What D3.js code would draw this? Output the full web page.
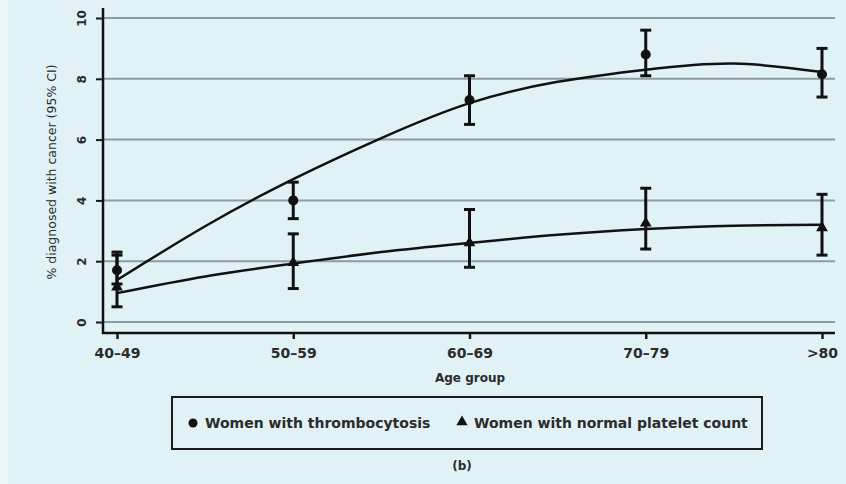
<!DOCTYPE html>
<html>
<head>
<meta charset="utf-8">
<script src="https://cdn.jsdelivr.net/npm/d3@7"></script>
<style>
  html, body { margin: 0; padding: 0; background: #e0f2f6; }
  svg { display: block; }
  text { font-family: "DejaVu Sans", sans-serif; fill: #2b2b2b; }
</style>
</head>
<body>
<svg id="chart" width="846" height="484"></svg>
<script>
// Age groups on the x axis
const ageGroups = ["40\u201349", "50\u201359", "60\u201369", "70\u201379", ">80"];
const yTicks = [0, 2, 4, 6, 8, 10];

// Women with thrombocytosis: observed % and 95% CI
const thrombValue = [1.7, 4.0, 7.3, 8.8, 8.15];
const thrombLow   = [1.25, 3.4, 6.5, 8.1, 7.4];
const thrombHigh  = [2.3, 4.6, 8.1, 9.6, 9.0];

// Women with normal platelet count: observed % and 95% CI
const normalValue = [1.15, 1.95, 2.6, 3.25, 3.1];
const normalLow   = [0.5, 1.1, 1.8, 2.4, 2.2];
const normalHigh  = [2.2, 2.9, 3.7, 4.4, 4.2];

// Fitted trend curves, sampled at each age group and halfway between groups
const fitPos    = [0, 0.5, 1, 1.5, 2, 2.5, 3, 3.5, 4];
const thrombFit = [1.38, 3.15, 4.7, 6.05, 7.2, 7.9, 8.3, 8.5, 8.22];
const normalFit = [0.95, 1.5, 1.92, 2.3, 2.6, 2.87, 3.06, 3.17, 3.2];

const svg = d3.select("#chart");

// faint lighter strip at the left edge of the panel
svg.append("rect").attr("x", 0).attr("y", 0).attr("width", 8).attr("height", 484)
  .attr("fill", "#eaf6f9");

const x = d3.scaleLinear().domain([0, 4]).range([117, 822]);
const y = d3.scaleLinear().domain([0, 10]).range([322, 18]);

const axisX0 = 103, axisY0 = 333, gridRight = 835;

// horizontal gridlines
svg.append("g").selectAll("line").data(yTicks).join("line")
  .attr("x1", axisX0).attr("x2", gridRight)
  .attr("y1", d => y(d)).attr("y2", d => y(d))
  .attr("stroke", "#8c9ca0").attr("stroke-width", 2);

// y axis
const yAxis = d3.axisLeft(y).tickValues(yTicks).tickSize(7).tickPadding(0).tickFormat(d3.format("d"));
const gy = svg.append("g").attr("transform", `translate(${axisX0},0)`).call(yAxis);
gy.select(".domain").remove();
gy.selectAll(".tick line").attr("stroke", "#1a1a1a").attr("stroke-width", 2);
gy.selectAll(".tick text").remove();
gy.selectAll(".tick").append("text")
  .attr("transform", "translate(-21,0) rotate(-90)")
  .attr("text-anchor", "middle").attr("dy", "0.35em")
  .style("font-size", "12px").style("font-weight", "bold")
  .text(d => d);
svg.append("line").attr("x1", axisX0).attr("x2", axisX0).attr("y1", 8).attr("y2", axisY0 + 1)
  .attr("stroke", "#111").attr("stroke-width", 2.5);

// x axis
const xAxis = d3.axisBottom(x).tickValues(d3.range(ageGroups.length)).tickSize(6).tickPadding(9)
  .tickFormat(i => ageGroups[i]);
const gx = svg.append("g").attr("transform", `translate(0,${axisY0})`).call(xAxis);
gx.select(".domain").remove();
gx.selectAll(".tick line").attr("stroke", "#1a1a1a").attr("stroke-width", 2.5);
gx.selectAll(".tick text").style("font-size", "14px").style("font-weight", "bold").attr("fill", "#2b2b2b");
svg.append("line").attr("x1", axisX0 - 1).attr("x2", gridRight).attr("y1", axisY0).attr("y2", axisY0)
  .attr("stroke", "#111").attr("stroke-width", 2.5);

// axis titles
svg.append("text").attr("x", 470).attr("y", 382).attr("text-anchor", "middle")
  .style("font-size", "12px").style("font-weight", "bold").text("Age group");
svg.append("text").attr("transform", "translate(56,172) rotate(-90)").attr("text-anchor", "middle")
  .style("font-size", "12.5px").text("% diagnosed with cancer (95% CI)");

// fitted curves
const line = d3.line().x((d, i) => x(fitPos[i])).y(d => y(d)).curve(d3.curveNatural);
[thrombFit, normalFit].forEach(fit => {
  svg.append("path").attr("d", line(fit)).attr("fill", "none")
    .attr("stroke", "#111").attr("stroke-width", 2.5);
});

// error bars with caps
function errorBars(low, high) {
  const g = svg.append("g").attr("stroke", "#111").attr("stroke-width", 3);
  ageGroups.forEach((a, i) => {
    g.append("line").attr("x1", x(i)).attr("x2", x(i)).attr("y1", y(low[i])).attr("y2", y(high[i]));
    [low[i], high[i]].forEach(v => g.append("line")
      .attr("x1", x(i) - 5.5).attr("x2", x(i) + 5.5).attr("y1", y(v)).attr("y2", y(v)));
  });
}
errorBars(thrombLow, thrombHigh);
errorBars(normalLow, normalHigh);

// markers
svg.append("g").selectAll("circle").data(thrombValue).join("circle")
  .attr("cx", (d, i) => x(i)).attr("cy", d => y(d)).attr("r", 5).attr("fill", "#111");
const tri = d3.symbol().type(d3.symbolTriangle).size(60);
svg.append("g").selectAll("path").data(normalValue).join("path")
  .attr("transform", (d, i) => `translate(${x(i)},${y(d)})`).attr("d", tri).attr("fill", "#111");

// legend
const lg = svg.append("g");
lg.append("rect").attr("x", 172).attr("y", 397).attr("width", 590).attr("height", 52)
  .attr("fill", "none").attr("stroke", "#1a1a1a").attr("stroke-width", 2);
lg.append("circle").attr("cx", 193).attr("cy", 423).attr("r", 4.5).attr("fill", "#111");
lg.append("text").attr("x", 205).attr("y", 428).style("font-size", "14px").style("font-weight", "bold")
  .text("Women with thrombocytosis");
lg.append("path").attr("transform", "translate(462,422)")
  .attr("d", d3.symbol().type(d3.symbolTriangle).size(55)).attr("fill", "#111");
lg.append("text").attr("x", 474).attr("y", 428).style("font-size", "14px").style("font-weight", "bold")
  .text("Women with normal platelet count");

// panel label
svg.append("text").attr("x", 462).attr("y", 470).attr("text-anchor", "middle")
  .style("font-size", "12px").style("font-weight", "bold").text("(b)");
</script>
</body>
</html>
